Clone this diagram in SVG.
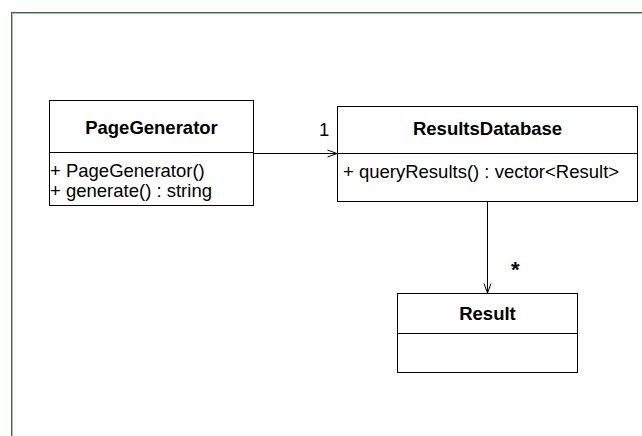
<svg xmlns="http://www.w3.org/2000/svg" width="642" height="436" viewBox="0 0 642 436">
<style>
.box{fill:#fff;stroke:#000;stroke-width:1}
.div{stroke:#000;stroke-width:1}
.t{font-family:"Liberation Sans",Arial,sans-serif;font-size:18.5px;fill:#000}
.b{font-weight:bold;text-anchor:middle}
.edge{stroke:#000;stroke-width:1;fill:none}
</style>
<defs>
<marker id="open" markerWidth="11" markerHeight="10" refX="10" refY="5" orient="auto" markerUnits="userSpaceOnUse">
<path d="M0.5,1.5 L10,5 L0.5,8.5" fill="none" stroke="#000" stroke-width="1"/>
</marker>
</defs>
<rect x="0" y="0" width="642" height="436" fill="#fff"/>
<rect x="11.5" y="12.5" width="700" height="500" fill="none" stroke="#3d6b3d" stroke-width="1"/>
<rect x="12.5" y="13.5" width="700" height="500" fill="none" stroke="#a9c5a9" stroke-width="1"/>
<g id="connectors">
<line class="edge" x1="253" y1="153.5" x2="337" y2="153.5" marker-end="url(#open)"/>
<text class="t" x="319" y="136">1</text>
<line class="edge" x1="487.5" y1="201" x2="487.5" y2="293" marker-end="url(#open)"/>
<text class="t" x="511" y="276.5" style="font-size:22px;font-weight:bold">*</text>
</g>
<g id="PageGenerator">
<rect class="box" x="49.5" y="100.5" width="204" height="105"/>
<line class="div" x1="49.5" y1="152.5" x2="253.5" y2="152.5"/>
<text class="t b" x="151.5" y="133.5">PageGenerator</text>
<text class="t" x="50" y="176.5">+ PageGenerator()</text>
<text class="t" x="50" y="196.5">+ generate() : string</text>
</g>
<g id="ResultsDatabase">
<rect class="box" x="337.5" y="106.5" width="300" height="95"/>
<line class="div" x1="337.5" y1="153.5" x2="637.5" y2="153.5"/>
<text class="t b" x="487.5" y="135">ResultsDatabase</text>
<text class="t" x="343" y="178">+ queryResults() : vector&lt;Result&gt;</text>
</g>
<g id="Result">
<rect class="box" x="397.5" y="293.5" width="180" height="79"/>
<line class="div" x1="397.5" y1="333.5" x2="577.5" y2="333.5"/>
<text class="t b" x="487.5" y="320">Result</text>
</g>
</svg>
